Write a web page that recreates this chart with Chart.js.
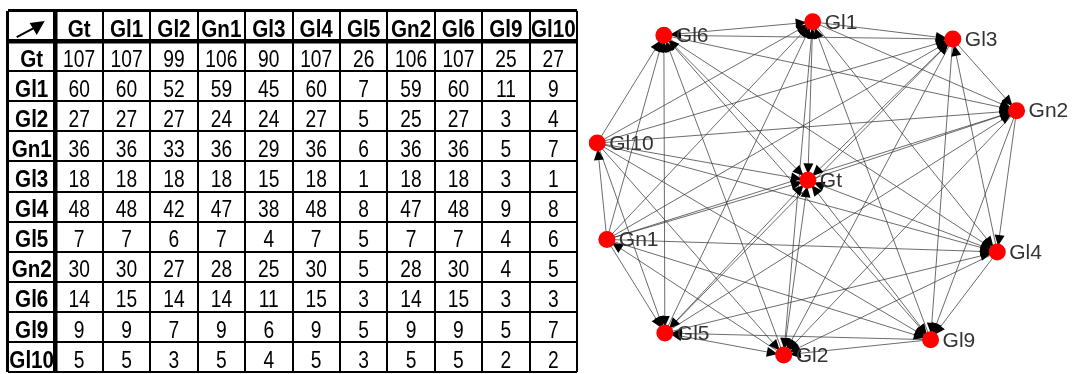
<!DOCTYPE html>
<html>
<head>
<meta charset="utf-8">
<script src="https://cdn.jsdelivr.net/npm/chart.js@4.4.1/dist/chart.umd.min.js"></script>
<style>
  html, body { margin: 0; padding: 0; background: #fff; }
  #wrap { position: relative; width: 1085px; height: 374px; overflow: hidden; }
  #tableBox { position: absolute; left: 0; top: 0; }
  #graphBox { position: absolute; left: 580px; top: 0; }
</style>
</head>
<body>
<div id="wrap">
  <div id="tableBox"><canvas id="table" width="585" height="374"></canvas></div>
  <div id="graphBox"><canvas id="graph" width="505" height="374"></canvas></div>
</div>
<script>
// genes, in table order
const genes = ['Gt', 'Gl1', 'Gl2', 'Gn1', 'Gl3', 'Gl4', 'Gl5', 'Gn2', 'Gl6', 'Gl9', 'Gl10'];

// table rows (row gene x column gene)
const rowGt   = [107, 107, 99, 106, 90, 107, 26, 106, 107, 25, 27];
const rowGl1  = [60, 60, 52, 59, 45, 60, 7, 59, 60, 11, 9];
const rowGl2  = [27, 27, 27, 24, 24, 27, 5, 25, 27, 3, 4];
const rowGn1  = [36, 36, 33, 36, 29, 36, 6, 36, 36, 5, 7];
const rowGl3  = [18, 18, 18, 18, 15, 18, 1, 18, 18, 3, 1];
const rowGl4  = [48, 48, 42, 47, 38, 48, 8, 47, 48, 9, 8];
const rowGl5  = [7, 7, 6, 7, 4, 7, 5, 7, 7, 4, 6];
const rowGn2  = [30, 30, 27, 28, 25, 30, 5, 28, 30, 4, 5];
const rowGl6  = [14, 15, 14, 14, 11, 15, 3, 14, 15, 3, 3];
const rowGl9  = [9, 9, 7, 9, 6, 9, 5, 9, 9, 5, 7];
const rowGl10 = [5, 5, 3, 5, 4, 5, 3, 5, 5, 2, 2];
const counts = [rowGt, rowGl1, rowGl2, rowGn1, rowGl3, rowGl4, rowGl5, rowGn2, rowGl6, rowGl9, rowGl10];

// network layout (Gt at the centre)
const nodeX = [0.00, 0.05, -0.25, -2.08, 1.50, 1.96, -1.48, 2.16, -1.49, 1.27, -2.18];
const nodeY = [0.00, 1.66, -1.83, -0.62, 1.48, -0.75, -1.60, 0.73, 1.52, -1.67, 0.39];

// directed links [from, to]
const edges = [
  ['Gn1', 'Gl10'], ['Gn1', 'Gt'], ['Gn1', 'Gl6'], ['Gn1', 'Gl5'], ['Gn1', 'Gl1'],
  ['Gn1', 'Gl3'], ['Gn1', 'Gn2'], ['Gn1', 'Gl4'], ['Gn1', 'Gl9'],
  ['Gl10', 'Gt'], ['Gl10', 'Gl6'], ['Gl10', 'Gl5'], ['Gl10', 'Gl1'], ['Gl10', 'Gl3'],
  ['Gl10', 'Gn2'], ['Gl10', 'Gl4'], ['Gl10', 'Gl9'], ['Gl10', 'Gl2'],
  ['Gt', 'Gl6'], ['Gt', 'Gl5'], ['Gt', 'Gl1'], ['Gt', 'Gl3'], ['Gt', 'Gn2'],
  ['Gt', 'Gl4'], ['Gt', 'Gl9'], ['Gt', 'Gl2'],
  ['Gl6', 'Gl5'], ['Gl6', 'Gl1'], ['Gl6', 'Gl3'], ['Gl6', 'Gn2'], ['Gl6', 'Gl4'], ['Gl6', 'Gl9'],
  ['Gl5', 'Gl1'], ['Gl5', 'Gl3'], ['Gl5', 'Gn2'], ['Gl5', 'Gl4'], ['Gl5', 'Gl2'],
  ['Gl1', 'Gl3'], ['Gl1', 'Gn2'], ['Gl1', 'Gl4'], ['Gl1', 'Gl2'],
  ['Gl3', 'Gn2'], ['Gl3', 'Gl9'], ['Gl3', 'Gl2'],
  ['Gn2', 'Gl4'], ['Gn2', 'Gl9'], ['Gn2', 'Gl2'],
  ['Gl4', 'Gl3'], ['Gl4', 'Gl9'], ['Gl4', 'Gl2'],
  ['Gl9', 'Gl2'], ['Gl9', 'Gl5'], ['Gl9', 'Gl1'],
  ['Gl2', 'Gn1'], ['Gl2', 'Gl6']
];
// links that also point back [from, to]
const backLinks = [
  ['Gl1', 'Gt'], ['Gl3', 'Gt'], ['Gl5', 'Gl6'], ['Gl2', 'Gt'], ['Gl9', 'Gt'],
  ['Gl4', 'Gt'], ['Gl5', 'Gt'], ['Gl6', 'Gt'], ['Gl1', 'Gl6'], ['Gl2', 'Gl5']
];

// ---------- table ----------
const colLabels = ['corner'].concat(genes);
const rowLabels = ['header'].concat(genes);

function condensedText(ctx, txt, x, y, sx) {
  ctx.save();
  ctx.translate(x, y);
  ctx.scale(sx, 1);
  ctx.fillText(txt, 0, 0);
  ctx.restore();
}

const tableText = {
  id: 'tableText',
  afterDraw(chart) {
    const ctx = chart.ctx, xs = chart.scales.x, ys = chart.scales.y;
    ctx.save();
    ctx.fillStyle = '#000';
    ctx.textAlign = 'center';
    ctx.textBaseline = 'middle';
    ctx.font = 'bold 24px "Liberation Sans", Arial, sans-serif';
    genes.forEach((g, i) => {
      condensedText(ctx, g, xs.getPixelForValue(i + 1), ys.getPixelForValue(0) + 4, 0.86);
      condensedText(ctx, g, xs.getPixelForValue(0), ys.getPixelForValue(i + 1) + 4, 0.86);
    });
    ctx.font = '24px "Liberation Sans", Arial, sans-serif';
    counts.forEach((row, r) => {
      row.forEach((v, c) => {
        condensedText(ctx, String(v), xs.getPixelForValue(c + 1), ys.getPixelForValue(r + 1) + 4, 0.8);
      });
    });
    // arrow glyph in the corner cell
    const cx = xs.getPixelForValue(0), cy = ys.getPixelForValue(0) + 2;
    ctx.strokeStyle = '#000';
    ctx.lineWidth = 2;
    ctx.beginPath();
    ctx.moveTo(cx - 15, cy + 9);
    ctx.lineTo(cx + 2, cy);
    ctx.stroke();
    ctx.beginPath();
    ctx.moveTo(cx + 13, cy - 7);
    ctx.lineTo(cx - 2, cy - 5);
    ctx.lineTo(cx + 5, cy + 7);
    ctx.closePath();
    ctx.fill();
    ctx.restore();
  }
};

function gridWidth(n) {
  return (ctx) => {
    const i = ctx.index;
    if (i === 0 || i === n) return 3;
    if (i === 1) return 4.5;
    return 2;
  };
}

new Chart(document.getElementById('table'), {
  type: 'scatter',
  data: { datasets: [] },
  options: {
    responsive: false,
    animation: false,
    layout: { padding: { left: 8, right: 8, top: 11, bottom: 2 } },
    plugins: { legend: { display: false }, tooltip: { enabled: false } },
    scales: {
      x: {
        type: 'category', labels: colLabels, offset: true,
        ticks: { display: false },
        grid: { offset: true, drawTicks: false, color: '#000', lineWidth: gridWidth(colLabels.length) },
        border: { display: false }
      },
      y: {
        type: 'category', labels: rowLabels, offset: true,
        ticks: { display: false },
        grid: { offset: true, drawTicks: false, color: '#000', lineWidth: gridWidth(rowLabels.length) },
        border: { display: false }
      }
    }
  },
  plugins: [tableText]
});

// ---------- network ----------
const idx = (name) => genes.indexOf(name);
const pt = (name) => ({ x: nodeX[idx(name)], y: nodeY[idx(name)] });

const edgeSets = edges.map(([a, b]) => ({
  data: [pt(a), pt(b)],
  showLine: true,
  borderColor: 'rgba(50,50,50,0.8)',
  borderWidth: 0.9,
  pointRadius: 0
}));

const nodeSet = {
  data: genes.map((g) => pt(g)),
  backgroundColor: '#ff0000',
  borderColor: '#ee0000',
  borderWidth: 0,
  pointRadius: 8.5
};

const arrowHeads = {
  id: 'arrowHeads',
  afterDatasetDraw(chart, args) {
    if (args.index !== 1) return; // last link drawn, before nodes
    const ctx = chart.ctx, xs = chart.scales.x, ys = chart.scales.y;
    ctx.save();
    ctx.fillStyle = '#000';
    edges.concat(backLinks).forEach(([a, b]) => {
      const pa = pt(a), pb = pt(b);
      const x1 = xs.getPixelForValue(pa.x), y1 = ys.getPixelForValue(pa.y);
      const x2 = xs.getPixelForValue(pb.x), y2 = ys.getPixelForValue(pb.y);
      const len = Math.hypot(x2 - x1, y2 - y1);
      const dx = (x2 - x1) / len, dy = (y2 - y1) / len;
      const tx = x2 - dx * 6, ty = y2 - dy * 6;
      const bx = tx - dx * 11, by = ty - dy * 11;
      ctx.beginPath();
      ctx.moveTo(tx, ty);
      ctx.lineTo(bx - dy * 5, by + dx * 5);
      ctx.lineTo(bx + dy * 5, by - dx * 5);
      ctx.closePath();
      ctx.fill();
    });
    ctx.restore();
  }
};

const nodeLabels = {
  id: 'nodeLabels',
  afterDatasetsDraw(chart) {
    const ctx = chart.ctx, xs = chart.scales.x, ys = chart.scales.y;
    ctx.save();
    ctx.fillStyle = '#333';
    ctx.font = '21px "Liberation Sans", Arial, sans-serif';
    ctx.textAlign = 'left';
    ctx.textBaseline = 'middle';
    genes.forEach((g, i) => {
      ctx.fillText(g, xs.getPixelForValue(nodeX[i]) + 12, ys.getPixelForValue(nodeY[i]) + 1);
    });
    ctx.restore();
  }
};

new Chart(document.getElementById('graph'), {
  type: 'scatter',
  data: { datasets: [nodeSet].concat(edgeSets) },
  options: {
    responsive: false,
    animation: false,
    layout: { padding: 0 },
    plugins: { legend: { display: false }, tooltip: { enabled: false } },
    scales: {
      x: { type: 'linear', min: -2.27, max: 2.78, display: false },
      y: { type: 'linear', min: -1.94, max: 1.80, display: false }
    }
  },
  plugins: [arrowHeads, nodeLabels]
});
</script>
</body>
</html>
